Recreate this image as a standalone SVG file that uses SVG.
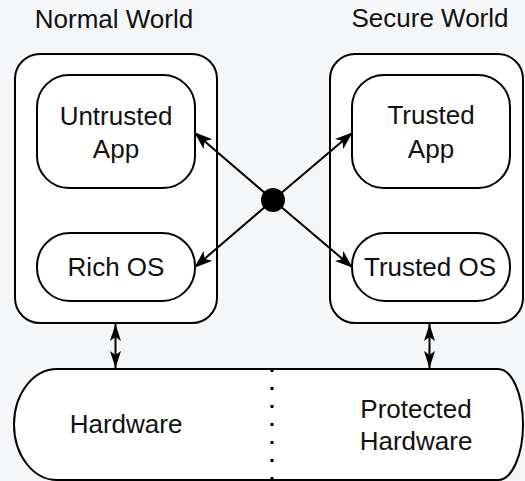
<svg xmlns="http://www.w3.org/2000/svg" width="525" height="481" viewBox="0 0 525 481">
  <style>
    .box { fill: #ffffff; stroke: #000000; stroke-width: 2; }
    .lbl { font-family: "Liberation Sans", Arial, sans-serif; font-size: 26px; fill: #111111; text-anchor: middle; }
    .conn { stroke: #000000; stroke-width: 2; fill: none; }
  </style>
  <defs>
    <marker id="arr" viewBox="0 0 18 13" refX="17" refY="6.5" markerWidth="18" markerHeight="13" markerUnits="userSpaceOnUse" orient="auto-start-reverse">
      <path d="M0,0 L18,6.5 L0,13 L4.5,6.5 Z" fill="#000000"/>
    </marker>
    <marker id="arrS" viewBox="0 0 17 11" refX="17" refY="5.5" markerWidth="17" markerHeight="11" markerUnits="userSpaceOnUse" orient="auto-start-reverse">
      <path d="M0,0 L17,5.5 L0,11 L4,5.5 Z" fill="#000000"/>
    </marker>
  </defs>
  <rect width="525" height="481" fill="#f5f6f8"/>

  <text class="lbl" x="114" y="28">Normal World</text>
  <text class="lbl" x="430" y="27">Secure World</text>

  <g id="normal-world">
    <rect class="box" x="15" y="54" width="202" height="269" rx="25" ry="25"/>
  </g>
  <g id="secure-world">
    <rect class="box" x="330" y="54" width="193" height="269" rx="25" ry="25"/>
  </g>

  <g id="untrusted-app">
    <rect class="box" x="37" y="75" width="158" height="113" rx="32" ry="32"/>
    <text class="lbl" x="116" y="125">Untrusted</text>
    <text class="lbl" x="116" y="158">App</text>
  </g>
  <g id="rich-os">
    <rect class="box" x="37" y="233" width="158" height="68" rx="33" ry="33"/>
    <text class="lbl" x="116" y="276">Rich OS</text>
  </g>
  <g id="trusted-app">
    <rect class="box" x="352" y="75" width="158" height="113" rx="32" ry="32"/>
    <text class="lbl" x="431" y="124">Trusted</text>
    <text class="lbl" x="431" y="158">App</text>
  </g>
  <g id="trusted-os">
    <rect class="box" x="352" y="233" width="158" height="68" rx="33" ry="33"/>
    <text class="lbl" x="430" y="276">Trusted OS</text>
  </g>

  <g id="hardware">
    <path class="box" d="M57,369 H498 A25,55.5 0 0 1 498,480 H57 A43,55.5 0 0 1 57,369 Z"/>
    <line x1="272" y1="369" x2="272" y2="481" stroke="#000000" stroke-width="3" stroke-dasharray="3,15"/>
    <text class="lbl" x="126" y="433">Hardware</text>
    <text class="lbl" x="416" y="418">Protected</text>
    <text class="lbl" x="416" y="450">Hardware</text>
  </g>

  <g id="connectors">
    <line class="conn" x1="273" y1="200" x2="195" y2="133" marker-end="url(#arr)"/>
    <line class="conn" x1="273" y1="200" x2="195" y2="267" marker-end="url(#arr)"/>
    <line class="conn" x1="273" y1="200" x2="352" y2="133" marker-end="url(#arr)"/>
    <line class="conn" x1="273" y1="200" x2="352" y2="267" marker-end="url(#arr)"/>
    <line class="conn" x1="115.5" y1="324" x2="115.5" y2="368" marker-start="url(#arrS)" marker-end="url(#arrS)"/>
    <line class="conn" x1="429.5" y1="324" x2="429.5" y2="368" marker-start="url(#arrS)" marker-end="url(#arrS)"/>
  </g>
  <g id="hub">
    <circle cx="273" cy="200" r="12" fill="#000000"/>
  </g>
</svg>
